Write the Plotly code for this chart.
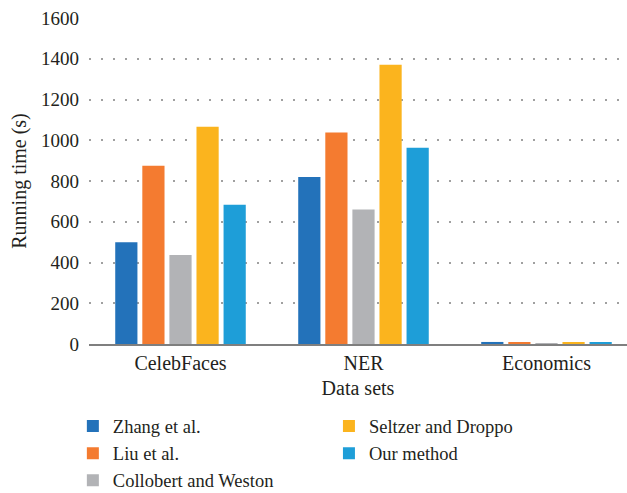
import plotly.graph_objects as go

categories = ["CelebFaces", "NER", "Economics"]
series_names = ["Zhang et al.", "Liu et al.", "Collobert and Weston", "Seltzer and Droppo", "Our method"]
zhang = [500, 820, 10]
liu = [875, 1038, 5]
collobert = [437, 660, 4]
seltzer = [1066, 1370, 5]
ours = [683, 963, 6]
colors = ["#2372BA", "#F47B30", "#B2B3B6", "#FBB41E", "#1E9ED8"]
y_ticks = [0, 200, 400, 600, 800, 1000, 1200, 1400, 1600]

FONT = "'Liberation Serif', 'DejaVu Serif', serif"
fig = go.Figure()
all_series = [zhang, liu, collobert, seltzer, ours]
for i, (name, vals, col) in enumerate(zip(series_names, all_series, colors)):
    fig.add_trace(go.Bar(
        x=categories, y=vals, name=name, marker_color=col,
        marker_line_width=0,
        legend="legend" if i < 3 else "legend2",
    ))

fig.update_layout(
    width=627, height=493,
    margin=dict(l=89, r=0, t=18, b=149, autoexpand=False),
    paper_bgcolor="white", plot_bgcolor="white",
    barmode="group", bargap=0.26, bargroupgap=0.18,
    font=dict(family=FONT, size=20, color="#231F20"),
    xaxis=dict(
        range=[-0.5, 2.44], showgrid=False, showline=True,
        linecolor="#7F7F7F", linewidth=2, ticks="",
        title=dict(text="Data sets", font=dict(size=20), standoff=8),
        tickfont=dict(size=20),
    ),
    yaxis=dict(
        range=[0, 1600], tickvals=y_ticks, showgrid=True,
        gridcolor="#A0A0A0", gridwidth=1.5, griddash="2px,10px",
        zeroline=False, showline=False, ticks="",
        ticklabelstandoff=9,
        title=dict(text="Running time (s)", font=dict(size=20), standoff=9),
        tickfont=dict(size=19),
    ),
    legend=dict(
        x=-0.03, y=-0.195, xanchor="left", yanchor="top",
        orientation="v", font=dict(size=18.5), bgcolor="rgba(0,0,0,0)",
        tracegroupgap=0, itemwidth=30,
    ),
    legend2=dict(
        x=0.446, y=-0.195, xanchor="left", yanchor="top",
        orientation="v", font=dict(size=18.5), bgcolor="rgba(0,0,0,0)",
        tracegroupgap=0, itemwidth=30,
    ),
)

fig.write_html("out.html")
